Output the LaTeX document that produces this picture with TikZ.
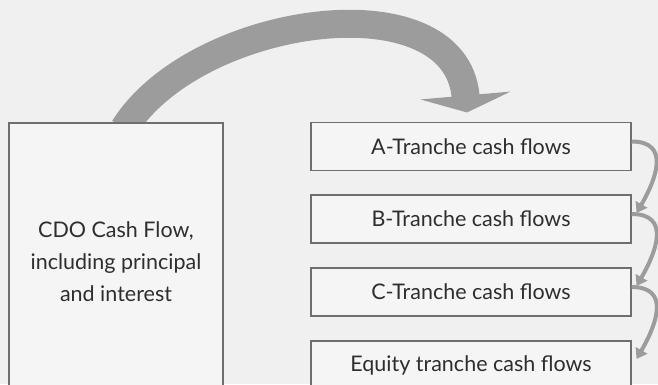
\documentclass[tikz,border=0pt]{standalone}
\usepackage{fontspec}
\setmainfont{Lato}
\usetikzlibrary{arrows.meta,backgrounds}
\definecolor{bggray}{HTML}{F0F0F0}
\definecolor{boxfill}{HTML}{F5F5F5}
\definecolor{boxline}{HTML}{6E6E6E}
\definecolor{flowgray}{HTML}{9C9C9C}
\definecolor{txtgray}{HTML}{2E2E2E}

\begin{document}
\begin{tikzpicture}[x=1pt,y=1pt,
		box/.style={draw=boxline,line width=1.1pt,fill=boxfill,text=txtgray,inner sep=0pt,
			font=\fontsize{21.5}{32}\selectfont},
		tranche/.style={box,minimum width=320pt,minimum height=48pt},
		bigflow/.style={draw=flowgray,line width=28pt,-{Triangle[width=90pt,length=17pt]}},
		smallflow/.style={draw=flowgray,line width=4pt,-{Triangle[width=13pt,length=10pt]}}]
		\useasboundingbox (0,0)rectangle(658,384);
		\clip (0,0)rectangle(658,384);
		\node[box,minimum width=214pt,minimum height=277pt,align=center] (cdo) at(116,122.5)
			{CDO Cash Flow,\\including principal\\and interest};
		\node[tranche] (ta) at(471,237.5){A-Tranche cash flows};
		\node[tranche] (tb) at(471,165){B-Tranche cash flows};
		\node[tranche] (tc) at(471,92){C-Tranche cash flows};
		\node[tranche] (te) at(471,19){Equity tranche cash flows};
		\foreach \a/\b in{ta/tb,tb/tc,tc/te}{
			\draw[smallflow] ([yshift=5pt]\a.east) to[out=0,in=60,looseness=1.4] ([xshift=5pt,yshift=6pt]\b.east);
		}
		\begin{scope}[on background layer]
			\fill[bggray] (0,0)rectangle(658,384);
			\draw[bigflow] ([xshift=8pt,yshift=-6pt]cdo.north) to[out=58,in=95] ([xshift=-4pt,yshift=9.5pt]ta.north);
		\end{scope}
	\end{tikzpicture}
\end{document}
